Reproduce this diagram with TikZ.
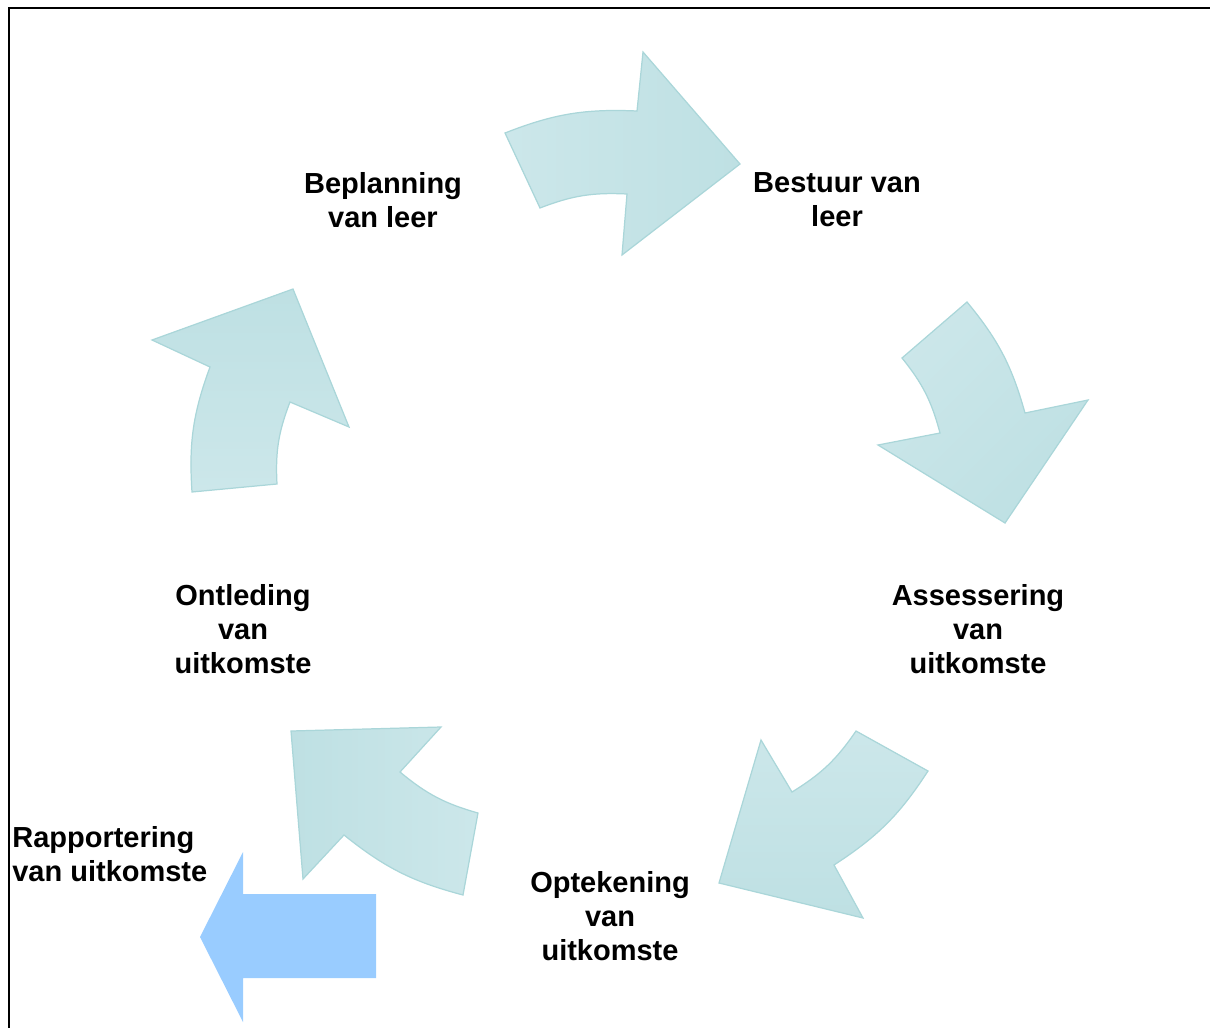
\documentclass[tikz,border=0pt]{standalone}
\usepackage{fontspec}
\setmainfont{Liberation Sans}
\definecolor{ringdark}{HTML}{BEE0E3}
\definecolor{ringlight}{HTML}{CCE7EA}
\definecolor{ringline}{HTML}{AAD6D9}
\definecolor{reportblue}{HTML}{99CCFF}

\begin{document}
\begin{tikzpicture}[x=0.02cm,y=-0.02cm,
    stage/.style={font=\bfseries\fontsize{16.5}{19.3}\selectfont,align=center,inner sep=0pt},
    ring/.style={draw=ringline,line width=0.7pt,top color=ringdark,bottom color=ringlight}]
    \useasboundingbox (0,0) rectangle (1210,1028);
    \draw[line width=1.1pt] (1210,7.7) -- (8.7,7.7) -- (8.7,1028);

    % the five arrows of the cycle
    \path[ring,shading angle=-90] (505,133) to[bend left=12] (637,111) -- (643,52) -- (740,164)
        -- (622,255) -- (627,194) to[bend right=12] (540,208) -- cycle;
    \path[ring,shading angle=-135] (967,302) to[bend left=12] (1025,413) -- (1088,400) -- (1005,523)
        -- (878,445) -- (940,433) to[bend right=12] (902,358) -- cycle;
    \path[ring,shading angle=180] (928,771) to[bend left=12] (834,865) -- (863,918) -- (719,883)
        -- (761,740) -- (792,792) to[bend right=12] (856,731) -- cycle;
    \path[ring,shading angle=90] (463,895) to[bend left=12] (344,835) -- (303,879) -- (291,731)
        -- (441,727) -- (400,772) to[bend right=12] (478,813) -- cycle;
    \path[ring,shading angle=0] (192,492) to[bend left=12] (210,367) -- (152,340) -- (293,289)
        -- (349,427) -- (290,402) to[bend right=12] (277,484) -- cycle;

    \path[fill=reportblue] (376,894) -- (243,894) -- (243,852) -- (200,937)
        -- (243,1022) -- (243,978) -- (376,978) -- cycle;

    \node[stage] (plan) at (383,200) {Beplanning\\van leer};
    \node[stage] (manage) at (837,200) {Bestuur van\\leer};
    \node[stage] (assess) at (978,629) {Assessering\\van\\uitkomste};
    \node[stage] (record) at (610,916) {Optekening\\van\\uitkomste};
    \node[stage] (analyse) at (243,629) {Ontleding\\van\\uitkomste};
    \node[stage,align=left,anchor=west] (report) at (12,854) {Rapportering\\van uitkomste};
\end{tikzpicture}
\end{document}
